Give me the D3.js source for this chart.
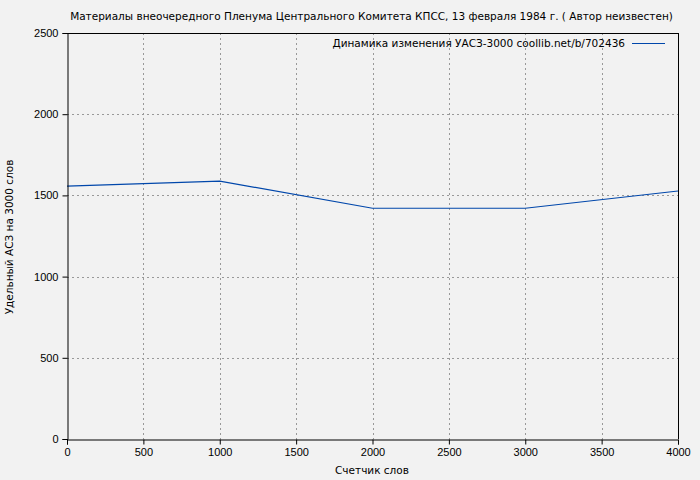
<!DOCTYPE html>
<html>
<head>
<meta charset="utf-8">
<script src="https://cdn.jsdelivr.net/npm/d3@7"></script>
<style>
  body { margin: 0; background: #f2f2f2; }
  svg { display: block; font-family: "DejaVu Sans", sans-serif; }
</style>
</head>
<body>
<div id="wrapper"></div>
<script>
const wordCounts = [0, 1000, 2000, 3000, 4000]
const densityValues = [1557, 1588, 1421, 1421, 1527]
const xTicks = [0, 500, 1000, 1500, 2000, 2500, 3000, 3500, 4000]
const yTicks = [0, 500, 1000, 1500, 2000, 2500]

const titleText = "Материалы внеочередного Пленума Центрального Комитета КПСС, 13 февраля 1984 г. ( Автор неизвестен)"
const legendText = "Динамика изменения УАСЗ-3000 coollib.net/b/702436"
const xLabelText = "Счетчик слов"
const yLabelText = "Удельный АСЗ на 3000 слов"

const dimensions = {
    width: 700,
    height: 480,
    margin: { top: 33, right: 22, bottom: 41, left: 67 },
}
dimensions.boundedWidth = dimensions.width - dimensions.margin.left - dimensions.margin.right
dimensions.boundedHeight = dimensions.height - dimensions.margin.top - dimensions.margin.bottom

const wrapper = d3.select("#wrapper").append("svg")
    .attr("width", dimensions.width)
    .attr("height", dimensions.height)

wrapper.append("rect")
    .attr("width", dimensions.width)
    .attr("height", dimensions.height)
    .attr("fill", "#f2f2f2")

const bounds = wrapper.append("g")
    .attr("transform", `translate(${dimensions.margin.left},${dimensions.margin.top})`)

const xScale = d3.scaleLinear().domain([0, 4000]).range([0, dimensions.boundedWidth])
const yScale = d3.scaleLinear().domain([0, 2500]).range([dimensions.boundedHeight, 0])

// grid
bounds.append("g").selectAll("line")
    .data(xTicks.slice(1, -1))
    .join("line")
    .attr("x1", d => Math.round(xScale(d)) + 0.5)
    .attr("x2", d => Math.round(xScale(d)) + 0.5)
    .attr("y1", 0)
    .attr("y2", dimensions.boundedHeight)
    .attr("stroke", "#999")
    .attr("stroke-dasharray", "2,3")

bounds.append("g").selectAll("line")
    .data(yTicks.slice(1, -1))
    .join("line")
    .attr("y1", d => Math.round(yScale(d)) + 0.5)
    .attr("y2", d => Math.round(yScale(d)) + 0.5)
    .attr("x1", 0)
    .attr("x2", dimensions.boundedWidth)
    .attr("stroke", "#999")
    .attr("stroke-dasharray", "2,3")

// frame top/right
bounds.append("line")
    .attr("x1", 0).attr("x2", dimensions.boundedWidth + 0.5)
    .attr("y1", 0.5).attr("y2", 0.5)
    .attr("stroke", "black")
bounds.append("line")
    .attr("x1", dimensions.boundedWidth + 0.5).attr("x2", dimensions.boundedWidth + 0.5)
    .attr("y1", 0).attr("y2", dimensions.boundedHeight)
    .attr("stroke", "black")

// data line
const lineGenerator = d3.line()
    .x((d, i) => xScale(wordCounts[i]))
    .y(d => yScale(d))

bounds.append("path")
    .datum(densityValues)
    .attr("d", lineGenerator)
    .attr("fill", "none")
    .attr("stroke", "#0047ab")
    .attr("stroke-width", 1.2)

// axes
const xAxis = bounds.append("g")
    .attr("transform", `translate(0,${dimensions.boundedHeight + 0.5})`)
    .call(d3.axisBottom(xScale).tickValues(xTicks).tickSize(5).tickPadding(4).tickFormat(d3.format("d")))
xAxis.select(".domain").attr("stroke", "black")
xAxis.selectAll("text").style("font-size", "11px").attr("fill", "black")

const yAxis = bounds.append("g")
    .attr("transform", "translate(0.5,0)")
    .call(d3.axisLeft(yScale).tickValues(yTicks).tickSize(5).tickPadding(4).tickFormat(d3.format("d")))
yAxis.selectAll("text").style("font-size", "11px").attr("fill", "black")

// title
wrapper.append("text")
    .attr("x", 371.5)
    .attr("y", 20)
    .attr("text-anchor", "middle")
    .style("font-size", "10.5px")
    .text(titleText)

// legend
wrapper.append("text")
    .attr("x", 625)
    .attr("y", 47)
    .attr("text-anchor", "end")
    .style("font-size", "10.5px")
    .text(legendText)
wrapper.append("line")
    .attr("x1", 632).attr("x2", 665)
    .attr("y1", 43.5).attr("y2", 43.5)
    .attr("stroke", "#0047ab")
    .attr("stroke-width", 1.2)

// axis labels
wrapper.append("text")
    .attr("x", 372)
    .attr("y", 474)
    .attr("text-anchor", "middle")
    .style("font-size", "10.5px")
    .text(xLabelText)

wrapper.append("text")
    .attr("transform", "translate(13,237) rotate(-90)")
    .attr("text-anchor", "middle")
    .style("font-size", "10.5px")
    .text(yLabelText)
</script>
</body>
</html>
